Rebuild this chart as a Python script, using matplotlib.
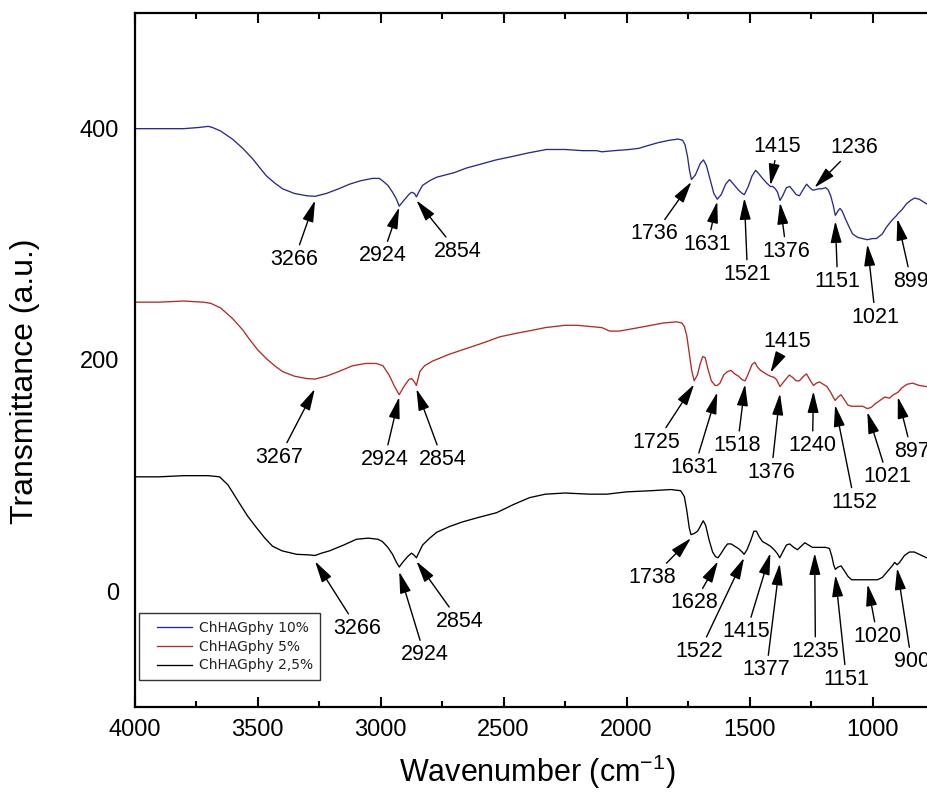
import matplotlib
matplotlib.use("Agg")
import matplotlib.pyplot as plt
from matplotlib.ticker import MultipleLocator, FixedLocator
from matplotlib.legend_handler import HandlerLine2D
from matplotlib.lines import Line2D

plt.rcParams['font.family'] = ['Liberation Sans', 'DejaVu Sans']
plt.rcParams['mathtext.fontset'] = 'custom'
plt.rcParams['mathtext.rm'] = 'Liberation Sans'
plt.rcParams['mathtext.it'] = 'Liberation Sans:italic'

# ---- spectra (wavenumber in cm-1, transmittance in a.u., offset per sample) ----
wn_10 = [4000, 3900, 3800, 3740, 3700, 3683, 3650, 3602, 3560, 3520, 3490, 3463, 3430,
         3398, 3350, 3300, 3266, 3220, 3170, 3126, 3080, 3033, 3005, 2992, 2970, 2951,
         2935, 2924, 2905, 2885, 2874, 2862, 2854, 2845, 2829, 2800, 2772, 2700, 2650,
         2598, 2530, 2463, 2400, 2325, 2250, 2180, 2122, 2100, 2050, 1988, 1950, 1919,
         1870, 1825, 1790, 1772, 1762, 1752, 1744, 1736, 1720, 1700, 1687, 1675, 1660,
         1645, 1631, 1615, 1597, 1581, 1565, 1545, 1530, 1521, 1505, 1490, 1475, 1462,
         1447, 1430, 1415, 1405, 1395, 1386, 1376, 1365, 1350, 1336, 1325, 1310, 1297,
         1283, 1268, 1255, 1244, 1236, 1220, 1207, 1190, 1180, 1170, 1160, 1151, 1140,
         1132, 1124, 1110, 1095, 1081, 1060, 1041, 1021, 1000, 984, 960, 943, 920, 902,
         899, 880, 862, 845, 829, 810, 795, 780, 760]
t_10 = [400, 400, 400, 401, 402, 401, 398, 391, 383, 374, 366, 359, 353,
        348, 344, 342, 341.5, 344, 348, 352, 355, 357, 357, 355, 351, 345,
        339, 333, 338, 343, 345, 344, 341, 345, 351, 355, 358, 362, 366,
        369, 373, 376, 379, 382, 382, 381, 381, 380, 381, 382, 383, 385,
        388, 390, 391, 390, 386, 376, 364, 356, 360, 370, 373, 368, 356,
        344, 339, 343, 352, 356, 352, 347, 344, 343, 350, 359, 364, 361,
        357, 353, 350, 350, 348, 345, 338, 342, 349, 350, 347, 343, 342,
        347, 352, 349, 347, 347, 348, 348, 349, 347, 342, 334, 325, 329,
        331, 329, 322, 315, 309, 306, 305, 304, 305, 305, 309, 315, 321, 325,
        326, 330, 335, 338, 340, 339, 337, 335, 334]

wn_5 = [4000, 3900, 3800, 3720, 3690, 3650, 3602, 3560, 3533, 3500, 3463, 3430, 3398,
        3350, 3301, 3267, 3220, 3170, 3114, 3060, 3016, 2990, 2965, 2945, 2924, 2905,
        2885, 2874, 2862, 2854, 2840, 2821, 2789, 2720, 2650, 2580, 2516, 2450, 2400,
        2330, 2250, 2200, 2150, 2100, 2069, 2030, 1976, 1900, 1850, 1797, 1775, 1765,
        1755, 1745, 1735, 1725, 1712, 1700, 1690, 1680, 1670, 1655, 1640, 1631, 1620,
        1605, 1590, 1575, 1560, 1545, 1530, 1518, 1505, 1490, 1478, 1468, 1455, 1440,
        1425, 1415, 1400, 1390, 1376, 1365, 1350, 1338, 1325, 1310, 1297, 1280, 1268,
        1255, 1240, 1228, 1215, 1200, 1185, 1170, 1160, 1152, 1140, 1128, 1115, 1100,
        1085, 1060, 1040, 1021, 1005, 990, 970, 950, 931, 915, 897, 880, 860, 837,
        810, 780, 760]
t_5 = [250, 250, 251, 250, 249, 245, 236, 226, 218, 209, 201, 195, 190,
       186, 184, 183.5, 186, 190, 195, 197, 197, 195, 187, 178, 170, 177,
       183, 184, 181, 178, 190, 195, 199, 205, 210, 215, 220, 223, 225,
       228, 230, 230, 229, 228, 225, 225, 227, 230, 232, 233, 232, 229,
       221, 206, 191, 182, 187, 197, 203, 202, 193, 182, 178, 178, 180,
       187, 190, 191, 188, 186, 183, 182, 188, 196, 198, 194, 191, 189,
       187, 186, 185, 183, 177, 180, 184, 187, 185, 182, 182, 186, 188,
       183, 178, 180, 181, 179, 177, 172, 168, 165, 168, 170, 166, 161,
       160, 160, 160, 158, 159, 162, 165, 168, 167, 170, 172, 176, 179, 180,
       178, 177, 176]

wn_25 = [4000, 3900, 3800, 3700, 3654, 3620, 3573, 3540, 3504, 3470, 3439, 3400, 3341,
         3290, 3266, 3240, 3207, 3150, 3098, 3050, 3010, 2992, 2970, 2951, 2935, 2924,
         2910, 2890, 2874, 2862, 2854, 2845, 2829, 2800, 2772, 2720, 2667, 2600, 2528,
         2460, 2394, 2330, 2250, 2150, 2080, 2000, 1900, 1820, 1780, 1765, 1755, 1745,
         1738, 1725, 1711, 1698, 1688, 1678, 1665, 1650, 1638, 1628, 1615, 1600, 1589,
         1575, 1560, 1545, 1530, 1522, 1510, 1495, 1482, 1472, 1460, 1447, 1430, 1415,
         1400, 1388, 1377, 1365, 1350, 1337, 1320, 1305, 1290, 1275, 1260, 1244, 1235,
         1210, 1190, 1175, 1165, 1158, 1151, 1140, 1128, 1115, 1100, 1085, 1060, 1040,
         1020, 1000, 980, 960, 940, 920, 910, 900, 890, 870, 850, 830, 800, 780, 760]
t_25 = [99, 99, 100, 100, 99, 92, 76, 65, 55, 46, 39, 35, 32,
        31.5, 31, 33, 35, 40, 45, 46, 45, 43, 38, 32, 25, 21,
        25, 30, 33, 31, 29, 33, 40, 46, 51, 56, 60, 64, 68,
        75, 81, 84, 85, 84, 84, 86, 87, 88, 87, 82, 70, 55,
        49, 50, 52, 57, 61, 57, 45, 34, 30, 29, 33, 38, 41,
        41, 39, 37, 34, 32, 36, 44, 52, 52, 47, 43, 41, 39,
        36, 33, 29, 34, 40, 41, 38, 36, 39, 42, 40, 38, 38,
        38, 38, 37, 30, 23, 19, 21, 22, 18, 13, 10, 10, 10,
        10, 10, 10, 12, 17, 22, 25, 23, 25, 31, 34, 34, 31, 29, 27]

series_labels = ['ChHAGphy 10%', 'ChHAGphy 5%', 'ChHAGphy 2,5%']
series_colors = ['#2a2a8e', '#b42a2a', '#000000']

x_ticks = [4000, 3500, 3000, 2500, 2000, 1500, 1000]
y_ticks = [0, 200, 400]

# ---- band assignments: (band, arrow tip T, label x, label y) ----
bands_10 = [(3266, 338, 3350, 287), (2924, 332, 2992, 290), (2854, 338, 2687, 294),
            (1736, 354, 1886, 309), (1631, 337, 1671, 300), (1521, 340, 1508, 274),
            (1415, 351, 1386, 385), (1376, 336, 1350, 294), (1236, 349, 1073, 384),
            (1151, 320, 1142, 268), (1021, 300, 988, 237), (899, 322, 842, 268)]
bands_5 = [(3267, 175, 3411, 116), (2924, 168, 2984, 114), (2854, 175, 2748, 114),
           (1725, 179, 1878, 129), (1631, 172, 1724, 107), (1518, 179, 1549, 126),
           (1415, 189, 1346, 216), (1376, 171, 1411, 103), (1240, 173, 1244, 126),
           (1152, 161, 1073, 77), (1021, 155, 939, 99), (897, 168, 841, 121)]
bands_25 = [(3266, 26, 3093, -32), (2924, 17, 2821, -55), (2854, 26, 2679, -26),
            (1738, 46, 1894, 12), (1628, 26, 1724, -10), (1522, 29, 1703, -52),
            (1415, 33, 1512, -35), (1377, 24, 1431, -68), (1235, 33, 1232, -52),
            (1151, 14, 1106, -76), (1020, 6, 980, -39), (900, 20, 841, -61)]

fig = plt.figure(figsize=(9.28, 7.98), dpi=100)
# the wavenumber axis runs on past the right edge of the figure
ax = fig.add_axes([134.5 / 928, 91 / 798, 885.6 / 928, 694 / 798])

for wn, t, lab, col in zip([wn_10, wn_5, wn_25], [t_10, t_5, t_25],
                           series_labels, series_colors):
    ax.plot(wn, t, color=col, lw=0.95, label=lab)

arrow = dict(arrowstyle='-|>,head_length=0.85,head_width=0.22', color='black',
             lw=1.0, shrinkA=1, shrinkB=0)
for bands in (bands_10, bands_5, bands_25):
    for band, tip, tx, ty in bands:
        ax.annotate(str(band), xy=(band, tip), xytext=(tx, ty), ha='center',
                    va='center', fontsize=15.5, arrowprops=arrow)

ax.set_xlim(4000, 400)
ax.set_ylim(-100, 500)
ax.xaxis.set_major_locator(FixedLocator(x_ticks))
ax.xaxis.set_minor_locator(MultipleLocator(250))
ax.yaxis.set_major_locator(FixedLocator(y_ticks))
ax.tick_params(which='both', direction='in', top=True, width=1.5, labelsize=17)
ax.tick_params(which='major', length=7)
ax.tick_params(which='minor', length=4)
ax.tick_params(axis='x', pad=9)
ax.tick_params(axis='y', which='both', left=False, pad=11)
for s in ax.spines.values():
    s.set_linewidth(1.6)

fig.text(537 / 928, 1 - 772 / 798, 'Wavenumber (cm$^{-1}$)', ha='center',
         va='center', fontsize=22)
fig.text(25 / 928, 1 - 381 / 798, 'Transmittance (a.u.)', ha='center',
         va='center', rotation=90, fontsize=23)

leg_fs = 10
handler = HandlerLine2D(xpad=0.78)
leg = ax.legend(loc='upper left', bbox_to_anchor=(139 / 928, 1 - 613 / 798),
                bbox_transform=fig.transFigure, fontsize=leg_fs, frameon=True,
                fancybox=False, edgecolor='black', handlelength=3.25,
                labelspacing=0.35, borderpad=0.55, borderaxespad=0,
                handletextpad=0.5, handler_map={Line2D: handler})
leg.get_frame().set_linewidth(1.0)
for txt in leg.get_texts():
    txt.set_family('DejaVu Sans')
    txt.set_color('#222222')

fig.savefig('out.png', dpi=100)
